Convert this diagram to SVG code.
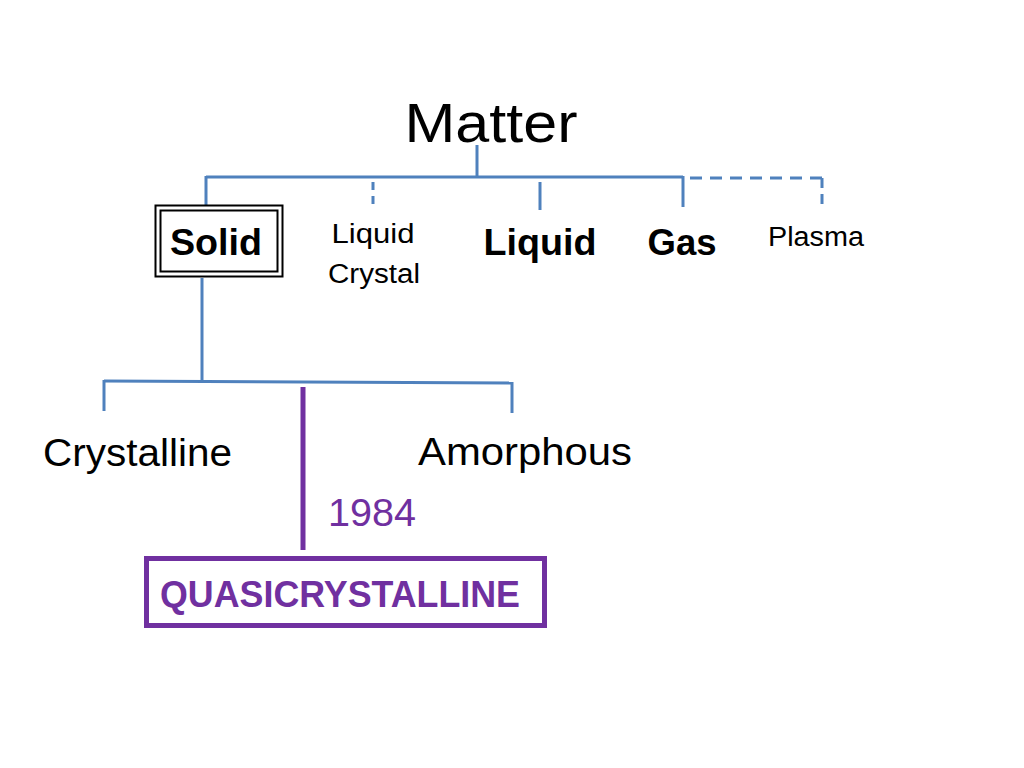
<svg xmlns="http://www.w3.org/2000/svg" width="1024" height="768" viewBox="0 0 1024 768">
<style>
.t{font-family:"Liberation Sans",Arial,sans-serif;fill:#000}
.b{font-weight:bold}
.blue{stroke:#4F81BD;stroke-width:3;fill:none}
.dash{stroke-dasharray:12,8}
.pur{fill:#7030A0}
</style>
<rect width="1024" height="768" fill="#fff"/>
<g id="connectors">
<line class="blue" x1="477" y1="145" x2="477" y2="177"/>
<line class="blue" x1="206" y1="177" x2="683" y2="177"/>
<line class="blue dash" x1="690" y1="178" x2="822" y2="178"/>
<line class="blue" x1="206" y1="176" x2="206" y2="205"/>
<line class="blue dash" x1="373" y1="182" x2="373" y2="210" style="stroke-dasharray:8,6"/>
<line class="blue" x1="540" y1="182" x2="540" y2="210"/>
<line class="blue" x1="683" y1="176" x2="683" y2="207"/>
<line class="blue dash" x1="822" y1="178" x2="822" y2="208" style="stroke-dasharray:10,6"/>
<line class="blue" x1="202" y1="278" x2="202" y2="381"/>
<line class="blue" x1="104" y1="381" x2="512" y2="383"/>
<line class="blue" x1="104" y1="380" x2="104" y2="411"/>
<line class="blue" x1="512" y1="382" x2="512" y2="413"/>
<line x1="303" y1="387" x2="303" y2="550" stroke="#7030A0" stroke-width="5"/>
</g>
<g id="matter"><text class="t" x="491" y="142" font-size="56" text-anchor="middle" textLength="173" lengthAdjust="spacingAndGlyphs">Matter</text></g>
<g id="solid">
<rect x="155.5" y="205.5" width="127" height="71" fill="#fff" stroke="#000" stroke-width="2"/>
<rect x="160.5" y="210.5" width="117" height="61" fill="none" stroke="#000" stroke-width="2"/>
<text class="t b" x="216" y="255" font-size="37" text-anchor="middle" textLength="92" lengthAdjust="spacingAndGlyphs">Solid</text>
</g>
<g id="liquid-crystal">
<text class="t" x="373" y="243" font-size="27" text-anchor="middle" textLength="83" lengthAdjust="spacingAndGlyphs">Liquid</text>
<text class="t" x="374" y="283" font-size="27" text-anchor="middle" textLength="92" lengthAdjust="spacingAndGlyphs">Crystal</text>
</g>
<g id="liquid"><text class="t b" x="540" y="255" font-size="37" text-anchor="middle" textLength="113" lengthAdjust="spacingAndGlyphs">Liquid</text></g>
<g id="gas"><text class="t b" x="682" y="255" font-size="37" text-anchor="middle" textLength="69" lengthAdjust="spacingAndGlyphs">Gas</text></g>
<g id="plasma"><text class="t" x="816" y="246" font-size="27" text-anchor="middle" textLength="96" lengthAdjust="spacingAndGlyphs">Plasma</text></g>
<g id="crystalline"><text class="t" x="43" y="466" font-size="38" textLength="189" lengthAdjust="spacingAndGlyphs">Crystalline</text></g>
<g id="amorphous"><text class="t" x="418" y="465" font-size="38" textLength="214" lengthAdjust="spacingAndGlyphs">Amorphous</text></g>
<g id="year"><text class="t pur" x="328" y="526" font-size="38" textLength="88" lengthAdjust="spacingAndGlyphs">1984</text></g>
<g id="quasicrystalline">
<rect x="146.5" y="558.5" width="398" height="67" fill="none" stroke="#7030A0" stroke-width="5"/>
<text class="t b pur" x="160" y="607" font-size="37" textLength="360" lengthAdjust="spacingAndGlyphs">QUASICRYSTALLINE</text>
</g>
</svg>
